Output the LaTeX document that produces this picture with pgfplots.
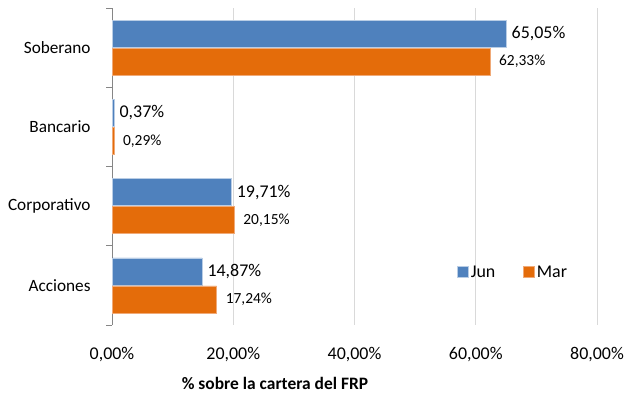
\documentclass[border=0pt]{standalone}
\usepackage{pgfplots}
\pgfplotsset{compat=1.18}
\usepackage{fontspec}
\setmainfont{Carlito}
\definecolor{cblue}{HTML}{4F81BD}
\definecolor{corange}{HTML}{E46C0A}
\definecolor{cgrid}{HTML}{D9D9D9}
\definecolor{caxis}{HTML}{868686}
\begin{document}
\begin{tikzpicture}[x=1bp,y=1bp]
\useasboundingbox (0,0) rectangle (626,400);
\begin{axis}[
  at={(112bp,75bp)}, anchor=south west,
  scale only axis, width=485bp, height=317bp,
  xmin=0, xmax=80, ymin=-0.5, ymax=3.5, y dir=reverse,
  xbar=1bp, bar width=27bp,
  axis y line*=left, axis x line*=bottom,
  x axis line style={draw=none},
  y axis line style={-, draw=caxis, line width=0.9bp},
  xtick={0,20,40,60,80},
  xtick style={draw=none},
  xmajorgrids, major grid style={draw=cgrid, line width=0.9bp},
  /pgf/number format/assume math mode=true,
  xticklabel={\pgfmathprintnumber[fixed,fixed zerofill,precision=2,use comma]{\tick}\%},
  xticklabel style={anchor=center, yshift=-25bp, font=\fontsize{18}{21}\selectfont},
  ytick={0,1,2,3},
  yticklabels={Soberano,Bancario,Corporativo,Acciones},
  ytick style={draw=none},
  yticklabel style={anchor=east, inner sep=0pt, xshift=-17bp, font=\fontsize{17.3}{21}\selectfont},
  minor ytick={-0.5,0.5,1.5,2.5,3.5},
  minor tick length=6bp, tick align=outside,
  minor y tick style={draw=caxis, line width=0.9bp},
  xlabel={\% sobre la cartera del FRP},
  xlabel style={at={(axis description cs:0.336,0)}, anchor=center, yshift=-58bp, font=\bfseries\fontsize{17.5}{20}\selectfont},
  legend columns=2,
  legend style={at={(0.827,0.167)}, anchor=center, draw=none, fill=none, font=\fontsize{18}{21}\selectfont,
    /tikz/every even column/.append style={column sep=26bp}},
  legend image code/.code={\fill[#1] (0bp,-5.5bp) rectangle (11bp,5.5bp);},
  nodes near coords={\pgfmathprintnumber[fixed,fixed zerofill,precision=2,use comma]{\pgfplotspointmeta}\%},
  point meta=x,
]
\addplot[fill=cblue, draw={rgb,255:red,185;green,205;blue,229}, line width=0.7bp, bar shift=14bp,
  nodes near coords style={anchor=west, inner sep=0pt, xshift=5bp, text=black, font=\fontsize{18}{21}\selectfont}]
  coordinates {(65.05,0) (0.37,1) (19.71,2) (14.87,3)};
\addlegendentry{Jun}
\addplot[fill=corange, draw={rgb,255:red,240;green,170;blue,120}, line width=0.5bp, bar shift=-14bp,
  nodes near coords style={anchor=west, inner sep=0pt, xshift=9bp, text=black, font=\fontsize{15.5}{18}\selectfont}]
  coordinates {(62.33,0) (0.29,1) (20.15,2) (17.24,3)};
\addlegendentry{Mar}
\end{axis}
\end{tikzpicture}
\end{document}
